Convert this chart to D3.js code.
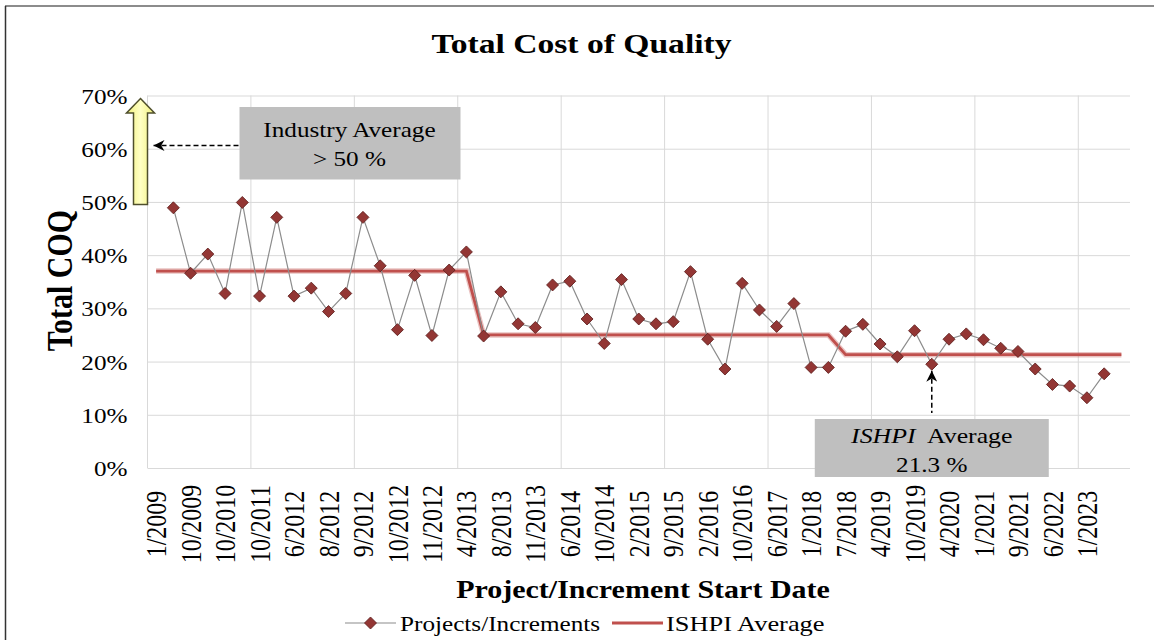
<!DOCTYPE html>
<html>
<head>
<meta charset="utf-8">
<script src="https://cdn.jsdelivr.net/npm/d3@7"></script>
<style>
  body { margin: 0; background: #fff; }
  svg text { font-family: "Liberation Serif", "Times New Roman", serif; fill: #000; }
</style>
</head>
<body>
<svg id="chart" width="1154" height="640"></svg>
<script>
// x tick labels, one on every other category
var tickLabels = ["1/2009", "10/2009", "10/2010", "10/2011", "6/2012", "8/2012", "9/2012",
  "10/2012", "11/2012", "4/2013", "8/2013", "11/2013", "6/2014", "10/2014", "2/2015",
  "9/2015", "2/2016", "10/2016", "6/2017", "1/2018", "7/2018", "4/2019", "10/2019",
  "4/2020", "1/2021", "9/2021", "6/2022", "1/2023"];

// total COQ (%) per project, categories 1..55
var coqValues = [48.9, 36.6, 40.2, 32.8, 49.9, 32.3, 47.1, 32.3, 33.8, 29.4, 32.8, 47.1,
  38.0, 26.0, 36.2, 24.9, 37.2, 40.6, 24.8, 33.1, 27.1, 26.4, 34.4, 35.1, 28.0, 23.4,
  35.4, 28.0, 27.1, 27.5, 36.9, 24.2, 18.6, 34.7, 29.7, 26.6, 30.9, 18.9, 18.9, 25.7,
  27.0, 23.3, 20.9, 25.8, 19.5, 24.2, 25.2, 24.1, 22.5, 21.9, 18.6, 15.7, 15.4, 13.2, 17.7];
var coqStart = 1;

// ISHPI average step line: vertices (category, %)
var avgCategory = [0, 18, 19, 39, 40, 56];
var avgValues = [37, 37, 25, 25, 21.3, 21.3];

var yTicks = [0, 10, 20, 30, 40, 50, 60, 70];
var nCategories = 57;
var gridEvery = 6;

var SX = 1.2; // glyphs in the picture are drawn wider than tall
var plot = { left: 147.5, right: 1130, top: 95.5, bottom: 468 };

var svg = d3.select("#chart");

var x = d3.scaleBand().domain(d3.range(nCategories)).range([plot.left, plot.right]);
var y = d3.scaleLinear().domain([0, 70]).range([plot.bottom, plot.top]);
var cx = function(i) { return x(i) + x.bandwidth() / 2; };

var defs = svg.append("defs");
defs.append("marker").
  attr("id", "stealth").
  attr("viewBox", "0 -5 10 10").
  attr("refX", 10).attr("refY", 0).
  attr("markerWidth", 11).attr("markerHeight", 11).
  attr("markerUnits", "userSpaceOnUse").
  attr("orient", "auto-start-reverse").
  append("path").
  attr("d", "M10,0 L0,-5 L3,0 L0,5 Z").
  attr("fill", "#000");

var grad = defs.append("linearGradient").attr("id", "yellow").
  attr("x1", "0").attr("x2", "1").attr("y1", "0").attr("y2", "0");
grad.append("stop").attr("offset", "0").attr("stop-color", "#f0f07a");
grad.append("stop").attr("offset", "0.5").attr("stop-color", "#ffffc4");
grad.append("stop").attr("offset", "1").attr("stop-color", "#f0f07a");

// outer frame (top and left edges visible)
svg.append("line").attr("x1", 5).attr("x2", 1154).attr("y1", 6).attr("y2", 6).
  attr("stroke", "#666").attr("stroke-width", 1.5);
svg.append("line").attr("x1", 5.5).attr("x2", 5.5).attr("y1", 6).attr("y2", 640).
  attr("stroke", "#333").attr("stroke-width", 1.5);

function addText(parent, str, px, py, size, anchor, weight) {
  return parent.append("text").
    attr("transform", "translate(" + px + "," + py + ") scale(" + SX + ",1)").
    attr("text-anchor", anchor || "middle").
    style("font-size", size + "px").
    style("font-weight", weight || "normal").
    text(str);
}

// horizontal grid + y labels
var yAxis = d3.axisLeft(y).
  tickValues(yTicks).
  tickFormat(function(d) { return d + "%"; }).
  tickSize(-(plot.right - plot.left));

var gY = svg.append("g").
  attr("transform", "translate(" + plot.left + ",0)").
  call(yAxis);
gY.select(".domain").remove();
gY.selectAll("line").attr("stroke", "#d9d9d9").attr("stroke-width", 1);
gY.selectAll("text").
  attr("x", null).attr("dy", "0.36em").
  attr("transform", "translate(-20,0) scale(" + SX + ",1)").
  attr("text-anchor", "end").
  style("font-size", "21px").
  attr("font-family", null);

// vertical grid every 6 categories
svg.append("g").selectAll("line").
  data(d3.range(0, nCategories, gridEvery)).
  enter().append("line").
  attr("x1", function(d) { return x(d); }).
  attr("x2", function(d) { return x(d); }).
  attr("y1", y(70)).attr("y2", y(0)).
  attr("stroke", "#d9d9d9").attr("stroke-width", 1);

// x labels
var xAxis = d3.axisBottom(x).
  tickValues(d3.range(0, tickLabels.length * 2, 2)).
  tickFormat(function(i) { return tickLabels[i / 2]; }).
  tickSize(0);

var gX = svg.append("g").
  attr("transform", "translate(0,524)").
  call(xAxis);
gX.select(".domain").remove();
gX.selectAll("text").
  attr("y", 0).attr("x", 0).attr("dy", "0.35em").
  attr("transform", "scale(" + SX + ",1) rotate(-90)").
  attr("text-anchor", "middle").
  style("font-size", "24px").
  attr("font-family", null);

// ISHPI average
var avgData = avgCategory.map(function(c, k) { return { i: c, v: avgValues[k] }; });
var lineGen = d3.line().
  x(function(d) { return cx(d.i); }).
  y(function(d) { return y(d.v); });

svg.append("path").datum(avgData).
  attr("d", lineGen).attr("fill", "none").
  attr("stroke", "rgba(192,80,77,0.35)").attr("stroke-width", 5.5);
svg.append("path").datum(avgData).
  attr("d", lineGen).attr("fill", "none").
  attr("stroke", "#c0504d").attr("stroke-width", 2.8);

// projects
var coqData = coqValues.map(function(v, k) { return { i: k + coqStart, v: v }; });
svg.append("path").datum(coqData).
  attr("d", lineGen).attr("fill", "none").
  attr("stroke", "#8c8c8c").attr("stroke-width", 1.2);

var diamond = d3.symbol().type(d3.symbolSquare).size(72);
svg.append("g").selectAll("path").
  data(coqData).enter().append("path").
  attr("d", diamond).
  attr("transform", function(d) {
    return "translate(" + cx(d.i) + "," + y(d.v) + ") rotate(45)";
  }).
  attr("fill", "#933634").
  attr("stroke", "#5e1f1d").attr("stroke-width", 0.8);

// yellow "industry" arrow beside the y axis
var ax = 140.5, tipY = y(70) + 3, headY = tipY + 14.5, baseY = y(50) + 2.5;
svg.append("path").
  attr("d", "M" + ax + "," + tipY +
    " L" + (ax + 14) + "," + headY +
    " L" + (ax + 7) + "," + headY +
    " L" + (ax + 7) + "," + baseY +
    " L" + (ax - 7) + "," + baseY +
    " L" + (ax - 7) + "," + headY +
    " L" + (ax - 14) + "," + headY + " Z").
  attr("fill", "url(#yellow)").
  attr("stroke", "#4f4f2c").attr("stroke-width", 1.5);

// Industry Average box
var ind = svg.append("g");
ind.append("rect").attr("x", 239.5).attr("y", 107).
  attr("width", 221).attr("height", 72.5).attr("fill", "#bfbfbf");
addText(ind, "Industry Average", 349.5, 137, 21);
addText(ind, "> 50 %", 349.5, 165.5, 21);
ind.append("line").
  attr("x1", 153.5).attr("x2", 239.5).attr("y1", y(60.6)).attr("y2", y(60.6)).
  attr("stroke", "#000").attr("stroke-width", 1.5).
  attr("stroke-dasharray", "5,3").
  attr("marker-start", "url(#stealth)");

// ISHPI Average box
var pick = 45;
var bx = cx(pick);
var ish = svg.append("g");
ish.append("rect").attr("x", bx - 117).attr("y", 419).
  attr("width", 234).attr("height", 58).attr("fill", "#bfbfbf");
var t1 = ish.append("text").
  attr("transform", "translate(" + bx + ",443) scale(" + SX + ",1)").
  attr("text-anchor", "middle").
  style("font-size", "21.5px");
t1.append("tspan").style("font-style", "italic").text("ISHPI");
t1.append("tspan").text("\u00a0 Average");
addText(ish, "21.3 %", bx, 472, 21);
ish.append("line").
  attr("x1", bx).attr("x2", bx).
  attr("y1", y(coqValues[pick - coqStart]) + 6.5).attr("y2", 413).
  attr("stroke", "#000").attr("stroke-width", 1.5).
  attr("stroke-dasharray", "5,3").
  attr("marker-start", "url(#stealth)");

// titles
addText(svg, "Total Cost of Quality", 581.5, 53.3, 28, "middle", "bold");
addText(svg, "Project/Increment Start Date", 643, 598, 25, "middle", "bold");
svg.append("text").
  attr("transform", "translate(71.7,280.5) scale(" + SX + ",1) rotate(-90)").
  attr("text-anchor", "middle").
  style("font-size", "30px").style("font-weight", "bold").
  text("Total COQ");

// legend
var leg = svg.append("g");
var legY = 623;
leg.append("line").attr("x1", 345).attr("x2", 396).attr("y1", legY).attr("y2", legY).
  attr("stroke", "#8c8c8c").attr("stroke-width", 1.2);
leg.append("path").attr("d", diamond).
  attr("transform", "translate(370.5," + legY + ") rotate(45)").
  attr("fill", "#933634").attr("stroke", "#5e1f1d").attr("stroke-width", 0.8);
addText(leg, "Projects/Increments", 400, 630.5, 21, "start");
leg.append("line").attr("x1", 612).attr("x2", 663).attr("y1", legY).attr("y2", legY).
  attr("stroke", "#c0504d").attr("stroke-width", 2.8);
addText(leg, "ISHPI Average", 666, 630.5, 22, "start");
</script>
</body>
</html>
